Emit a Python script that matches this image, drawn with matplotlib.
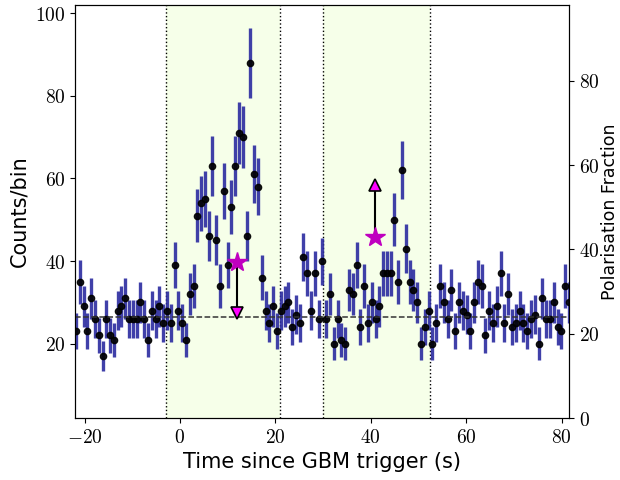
import numpy as np
import matplotlib
matplotlib.use("Agg")
import matplotlib.pyplot as plt
from matplotlib.ticker import FuncFormatter

plt.rcParams["mathtext.fontset"] = "cm"

# light curve, 0.8 s bins
t_start = -21.8
bin_width = 0.795
counts = [23, 35, 29, 23, 31, 26, 22, 17, 26, 22, 21, 28, 29, 31, 26, 26, 26, 30, 26, 21, 28, 26, 29,
          25, 28, 25, 39, 28, 25, 21, 32, 34, 51, 54, 55, 46, 63, 45, 34, 57, 39, 53, 63, 71, 70, 46,
          88, 61, 58, 36, 28, 25, 29, 23, 28, 29, 30, 24, 27, 25, 41, 37, 28, 37, 26, 40, 26, 32,
          20, 26, 21, 20, 33, 32, 39, 24, 34, 25, 30, 26, 29, 37, 37, 37, 50, 35, 62, 43, 35, 33, 30,
          20, 24, 28, 20, 25, 34, 30, 26, 33, 23, 30, 28, 27, 23, 30, 35, 34, 22, 28, 25,
          29, 37, 25, 32, 24, 25, 28, 25, 23, 26, 27, 20, 31, 26, 26, 30, 24, 23, 34, 30]
err_scale = 0.9
background = 26.5

# analysis intervals
intervals = [(-3.0, 21.0), (30.0, 52.5)]

# polarisation estimates and limits
pol_time = [12.0, 40.8]
pol_value = [37.0, 43.0]
pol_limit = [25.0, 55.3]

counts = np.array(counts, dtype=float)
time = t_start + bin_width * np.arange(len(counts))
errors = err_scale * np.sqrt(counts)

fig = plt.figure(figsize=(6.2, 4.8), dpi=100)
ax = fig.add_axes([0.121, 0.129, 0.797, 0.861])

for lo, hi in intervals:
    ax.axvspan(lo, hi, color="greenyellow", alpha=0.1, lw=0)
    ax.axvline(lo, color="k", ls=":", lw=1)
    ax.axvline(hi, color="k", ls=":", lw=1)

ax.errorbar(time, counts, yerr=errors, fmt="o", color="k", ms=4.5,
            ecolor="#2b2ba0", elinewidth=2.4, alpha=0.9, zorder=3)
ax.axhline(background, color="#333333", ls="--", lw=1.1, zorder=4)

ax.set_xlim(-22, 81.6)
ax.set_ylim(2, 102)
ax.set_xticks([-20, 0, 20, 40, 60, 80])
ax.set_yticks([20, 40, 60, 80, 100])
ax.set_xlabel("Time since GBM trigger (s)", fontsize=15)
ax.set_ylabel("Counts/bin", fontsize=15)

ax2 = ax.twinx()
ax2.set_ylim(0, 98)
ax2.set_yticks([0, 20, 40, 60, 80])
ax2.set_ylabel("Polarisation Fraction", fontsize=12.5, labelpad=1)

for t, v, lim in zip(pol_time, pol_value, pol_limit):
    ax2.plot([t, t], [v, lim], color="k", lw=1.5, zorder=5)
    ax2.plot(t, lim, marker="v" if lim < v else "^", ms=9, mfc="magenta",
             mec="k", mew=1.2, ls="none", zorder=6)
    ax2.plot(t, v, marker="*", ms=15, color="m", ls="none", zorder=7)

fmt = FuncFormatter(lambda v, p: f"${v:.0f}$")
for a in (ax, ax2):
    a.xaxis.set_major_formatter(fmt)
    a.yaxis.set_major_formatter(fmt)
    a.tick_params(labelsize=14)

fig.savefig("out.png", dpi=100)
